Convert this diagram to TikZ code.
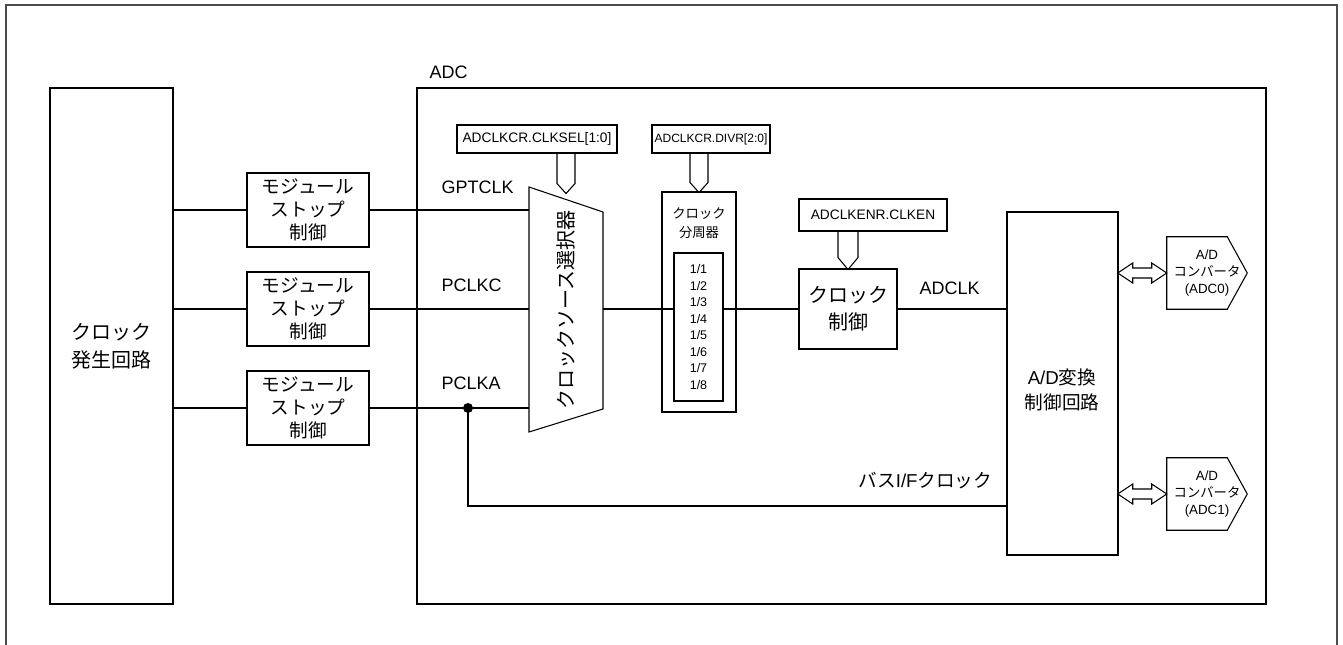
\documentclass[tikz,border=0pt]{standalone}
\usepackage{fontspec}
\setmainfont{Liberation Sans}
\newfontfamily\jp{Noto Sans CJK JP}
\usetikzlibrary{calc,positioning}

\tikzset{
  box/.style={draw, line width=0.8pt, inner sep=0pt, align=center},
  sz/.style 2 args={minimum width=#1*0.75pt, minimum height=#2*0.75pt},
  wire/.style={line width=1.5pt},
  lbl/.style={font=\fontsize{13.5}{16}\selectfont},
  reg/.style={box, font=\fontsize{10.3}{12}\selectfont},
}

\begin{document}
\begin{tikzpicture}[x=0.75pt,y=-0.75pt]
\useasboundingbox (0,0) rectangle (1343,645);
% Outer frame, open at the bottom
\draw[line width=1.8pt, black!70] (6,645) -- (6,5) -- (1337,5) -- (1337,645);
% Clock generator and ADC block
\node[box, sz={123}{516}, font=\jp\fontsize{15}{21}\selectfont] (gen) at (111.5,346) {クロック\\発生回路};
\node[box, sz={849}{516}] (adc) at (841.5,346) {};
\node[lbl, anchor=west] (adcname) at (425,72) {ADC};
% Module stop boxes
\foreach \i/\y in {1/210,2/309,3/408}
  \node[box, sz={122}{74}, font=\jp\fontsize{14}{17}\selectfont] (ms\i) at (308,\y) {モジュール\\ストップ\\制御};
% Clock source selector
\coordinate (selnw) at (529,187);
\coordinate (selne) at (603,212);
\coordinate (selse) at (603,409);
\coordinate (selsw) at (529,432);
\draw[line width=0.8pt] (selnw) -- (selne) -- (selse) -- (selsw) -- cycle;
\node[font=\jp\fontsize{15}{18}\selectfont, rotate=90] (sel) at (566,310) {クロックソース選択器};
\coordinate (selout) at (603,309);
% Input clocks
\foreach \i in {1,2,3} {
  \draw[wire] (gen.east |- ms\i) -- (ms\i.west);
  \draw[wire] (ms\i.east) -- (ms\i -| selnw);
}
\node[lbl, anchor=west] (lgpt) at (437,187) {GPTCLK};
\node[lbl, anchor=west] (lpclkc) at (437,285) {PCLKC};
\node[lbl, anchor=west] (lpclka) at (437,383) {PCLKA};
% Registers
\node[reg, sz={160}{28}] (clksel) at (537,139) {ADCLKCR.CLKSEL[1:0]};
\node[reg, sz={118}{28}, font=\fontsize{9}{11}\selectfont] (divr) at (711,139) {ADCLKCR.DIVR[2:0]};
\node[reg, sz={148}{32}] (clken) at (873,215) {ADCLKENR.CLKEN};
% Divider
\node[box, sz={74}{220}] (dv) at (699,302) {};
\node[font=\jp\fontsize{10}{14}\selectfont, align=center] (dvname) at (699,223) {クロック\\分周器};
\node[box, sz={49}{148}, font=\fontsize{9.4}{12.4}\selectfont] (dvin) at (698.5,327) {1/1\\1/2\\1/3\\1/4\\1/5\\1/6\\1/7\\1/8};
% Clock control
\node[box, sz={98}{80}, font=\jp\fontsize{15}{20}\selectfont] (cc) at (848,309) {クロック\\制御};
% A/D control circuit
\node[box, sz={111}{343}] (ad) at (1062.5,383.5) {};
\node[font=\jp\fontsize{14}{19}\selectfont, align=center] (adtxt) at (1062,390) {{\rmfamily A/D}変換\\制御回路};
% Register arrows
\draw[line width=0.8pt] ($(clksel.south -| sel)+(-9,0)$) -- ++(0,30) -- ++(9,10) -- ++(9,-10) -- ++(0,-30);
\draw[line width=0.8pt] ($(divr.south -| dv)+(-9,0)$) -- ++(0,29) -- ++(9,10) -- ++(9,-10) -- ++(0,-29);
\draw[line width=0.8pt] ($(clken.south -| cc)+(-10,0)$) -- ++(0,26) -- ++(10,12) -- ++(10,-12) -- ++(0,-26);
% Clock path
\draw[wire] (selout) -- (selout -| dvin.west);
\draw[wire] (dvin.east |- selout) -- (cc.west);
\draw[wire] (cc.east) -- (cc -| ad.west);
\node[lbl, anchor=west] (ladclk) at (915,288) {ADCLK};
% Bus I/F clock
\coordinate (jn) at (468,408);
\fill (jn) circle (5);
\draw[wire] (jn) |- (ad.west |- 0,506);
\node[font=\jp\fontsize{14}{17}\selectfont, anchor=east] (lbus) at (997,481) {バス{\rmfamily I/F}クロック};
% A/D converters
\foreach \i/\y in {0/273,1/494} {
  \node[sz={80}{72}, inner sep=0pt, align=center, font=\fontsize{10}{13}\selectfont] (cv\i) at (1207,\y) {A/D\\{\jp コンバータ}\\(ADC\i)};
  \draw[line width=0.8pt] (cv\i.north west) -- ($(cv\i.north east)+(-20,0)$) -- (cv\i.east) -- ($(cv\i.south east)+(-20,0)$) -- (cv\i.south west) -- cycle;
  \draw[line width=0.8pt] (cv\i.west) -- ++(-15,-10) -- ++(0,5) -- ++(-19,0) -- ++(0,-5) -- ++(-15,10) -- ++(15,10) -- ++(0,-5) -- ++(19,0) -- ++(0,5) -- cycle;
}
\end{tikzpicture}
\end{document}
